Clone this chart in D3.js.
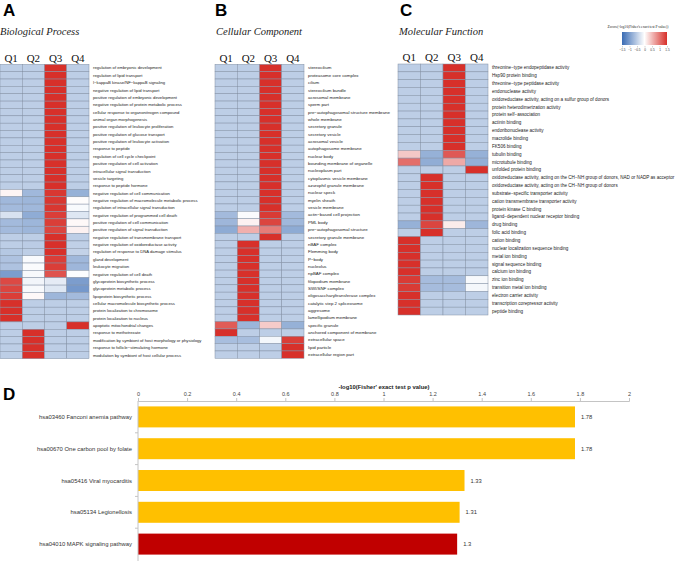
<!DOCTYPE html>
<html lang="en">
<head>
  <meta charset="UTF-8">
  <title>GO / KEGG enrichment</title>
  <script src="https://d3js.org/d3.v7.min.js"></script>
  <style>
    html, body {
      margin: 0;
      padding: 0;
      background: #fff;
      overflow: hidden;
    }
    svg text { font-family: "Liberation Sans", Arial, sans-serif; }
    .serif { font-family: "Liberation Serif", "Times New Roman", serif; }
  </style>
</head>
<body>
  <svg id="chart" width="685" height="561"></svg>
  <script>
    const quarters = ['Q1', 'Q2', 'Q3', 'Q4'];

    const bpTerms = [
      'regulation of embryonic development',
      'regulation of lipid transport',
      'I\u2212kappaB kinase/NF\u2212kappaB signaling',
      'negative regulation of lipid transport',
      'positive regulation of embryonic development',
      'negative regulation of protein metabolic process',
      'cellular response to organonitrogen compound',
      'animal organ morphogenesis',
      'positive regulation of leukocyte proliferation',
      'positive regulation of glucose transport',
      'positive regulation of leukocyte activation',
      'response to peptide',
      'regulation of cell cycle checkpoint',
      'positive regulation of cell activation',
      'intracellular signal transduction',
      'vesicle targeting',
      'response to peptide hormone',
      'negative regulation of cell communication',
      'negative regulation of macromolecule metabolic process',
      'regulation of intracellular signal transduction',
      'negative regulation of programmed cell death',
      'positive regulation of cell communication',
      'positive regulation of signal transduction',
      'negative regulation of transmembrane transport',
      'negative regulation of oxidoreductase activity',
      'regulation of response to DNA damage stimulus',
      'gland development',
      'leukocyte migration',
      'negative regulation of cell death',
      'glycoprotein biosynthetic process',
      'glycoprotein metabolic process',
      'lipoprotein biosynthetic process',
      'cellular macromolecule biosynthetic process',
      'protein localization to chromosome',
      'protein localization to nucleus',
      'apoptotic mitochondrial changes',
      'response to methotrexate',
      'modification by symbiont of host morphology or physiology',
      'response to follicle\u2212stimulating hormone',
      'modulation by symbiont of host cellular process'
    ];
    // z-scores, one row per term: Q1..Q4
    const bpValues = [
      [-0.5, -0.5, 1.5, -0.5],
      [-0.5, -0.5, 1.5, -0.5],
      [-0.5, -0.5, 1.5, -0.5],
      [-0.5, -0.5, 1.5, -0.5],
      [-0.5, -0.5, 1.5, -0.5],
      [-0.5, -0.5, 1.5, -0.5],
      [-0.5, -0.5, 1.5, -0.5],
      [-0.5, -0.5, 1.5, -0.5],
      [-0.5, -0.5, 1.5, -0.5],
      [-0.5, -0.5, 1.5, -0.5],
      [-0.5, -0.5, 1.5, -0.5],
      [-0.5, -0.5, 1.5, -0.5],
      [-0.5, -0.5, 1.5, -0.5],
      [-0.5, -0.5, 1.5, -0.5],
      [-0.5, -0.5, 1.5, -0.5],
      [-0.5, -0.5, 1.5, -0.5],
      [-0.5, -0.5, 1.5, -0.5],
      [0.08, -0.72, 1.45, -0.8],
      [-0.72, -0.75, 1.45, 0.02],
      [-0.7, -0.72, 1.45, -0.05],
      [-0.3, -0.85, 1.4, -0.25],
      [-0.7, -0.75, 1.4, 0.05],
      [-0.7, -0.75, 1.35, 0.1],
      [-0.5, -0.5, 1.5, -0.5],
      [-0.5, -0.52, 1.5, -0.48],
      [-0.56, -0.5, 1.5, -0.46],
      [-0.62, -0.05, 1.4, -0.72],
      [-0.62, -0.04, 1.4, -0.74],
      [-1.0, -0.06, 1.25, -0.02],
      [1.32, -0.1, -0.2, -1.0],
      [1.35, -0.06, -0.25, -1.05],
      [1.4, 0.05, -0.75, -0.7],
      [1.5, -0.5, -0.5, -0.5],
      [1.5, -0.5, -0.5, -0.5],
      [1.5, -0.5, -0.5, -0.5],
      [-0.5, -0.5, -0.5, 1.5],
      [-0.5, 1.5, -0.5, -0.5],
      [-0.5, 1.5, -0.5, -0.5],
      [-0.5, 1.5, -0.5, -0.5],
      [-0.5, 1.5, -0.5, -0.5]
    ];

    const ccTerms = [
      'stereocilium',
      'proteasome core complex',
      'cilium',
      'stereocilium bundle',
      'acrosomal membrane',
      'sperm part',
      'pre\u2212autophagosomal structure membrane',
      'whole membrane',
      'secretory granule',
      'secretory vesicle',
      'acrosomal vesicle',
      'autophagosome membrane',
      'nuclear body',
      'bounding membrane of organelle',
      'nucleoplasm part',
      'cytoplasmic vesicle membrane',
      'azurophil granule membrane',
      'nuclear speck',
      'myelin sheath',
      'vesicle membrane',
      'actin\u2212based cell projection',
      'PML body',
      'pre\u2212autophagosomal structure',
      'secretory granule membrane',
      'nBAF complex',
      'Flemming body',
      'P\u2212body',
      'nucleolus',
      'npBAF complex',
      'filopodium membrane',
      'SWI/SNF complex',
      'oligosaccharyltransferase complex',
      'catalytic step 2 spliceosome',
      'aggresome',
      'lamellipodium membrane',
      'specific granule',
      'anchored component of membrane',
      'extracellular space',
      'lipid particle',
      'extracellular region part'
    ];
    const ccValues = [
      [-0.5, -0.5, 1.5, -0.5],
      [-0.5, -0.5, 1.5, -0.5],
      [-0.5, -0.5, 1.5, -0.5],
      [-0.5, -0.5, 1.5, -0.5],
      [-0.5, -0.5, 1.5, -0.5],
      [-0.5, -0.5, 1.5, -0.5],
      [-0.5, -0.5, 1.5, -0.5],
      [-0.5, -0.5, 1.5, -0.5],
      [-0.5, -0.5, 1.5, -0.5],
      [-0.5, -0.5, 1.5, -0.5],
      [-0.5, -0.5, 1.5, -0.5],
      [-0.5, -0.5, 1.5, -0.5],
      [-0.5, -0.5, 1.5, -0.5],
      [-0.5, -0.5, 1.5, -0.5],
      [-0.5, -0.5, 1.5, -0.5],
      [-0.5, -0.5, 1.5, -0.5],
      [-0.5, -0.5, 1.5, -0.5],
      [-0.5, -0.5, 1.5, -0.5],
      [-0.5, -0.5, 1.5, -0.5],
      [-0.5, -0.5, 1.5, -0.5],
      [-0.7, -0.04, 1.42, -0.7],
      [-0.74, 0.1, 1.35, -0.72],
      [-0.86, 0.58, 0.95, -0.86],
      [-0.5, -0.5, 1.5, -0.5],
      [-0.5, 1.5, -0.5, -0.5],
      [-0.5, 1.5, -0.5, -0.5],
      [-0.5, 1.5, -0.5, -0.5],
      [-0.5, 1.5, -0.5, -0.5],
      [-0.5, 1.5, -0.5, -0.5],
      [-0.5, 1.5, -0.5, -0.5],
      [-0.5, 1.5, -0.5, -0.5],
      [-0.5, 1.5, -0.5, -0.5],
      [-0.5, 1.5, -0.5, -0.5],
      [-0.5, 1.5, -0.5, -0.5],
      [-0.5, 1.5, -0.5, -0.5],
      [1.18, -0.76, 0.38, -0.8],
      [1.5, -0.5, -0.5, -0.5],
      [-0.66, -0.66, -0.08, 1.4],
      [-0.5, -0.5, -0.5, 1.5],
      [-0.5, -0.5, -0.5, 1.5]
    ];

    const mfTerms = [
      'threonine\u2212type endopeptidase activity',
      'Hsp90 protein binding',
      'threonine\u2212type peptidase activity',
      'endonuclease activity',
      'oxidoreductase activity, acting on a sulfur group of donors',
      'protein heterodimerization activity',
      'protein self\u2212association',
      'actinin binding',
      'endoribonuclease activity',
      'macrolide binding',
      'FK506 binding',
      'tubulin binding',
      'microtubule binding',
      'unfolded protein binding',
      'oxidoreductase activity, acting on the CH\u2212NH group of donors, NAD or NADP as acceptor',
      'oxidoreductase activity, acting on the CH\u2212NH group of donors',
      'substrate\u2212specific transporter activity',
      'cation transmembrane transporter activity',
      'protein kinase C binding',
      'ligand\u2212dependent nuclear receptor binding',
      'drug binding',
      'folic acid binding',
      'cation binding',
      'nuclear localization sequence binding',
      'metal ion binding',
      'signal sequence binding',
      'calcium ion binding',
      'zinc ion binding',
      'transition metal ion binding',
      'electron carrier activity',
      'transcription corepressor activity',
      'peptide binding'
    ];
    const mfValues = [
      [-0.5, -0.5, 1.5, -0.5],
      [-0.5, -0.5, 1.5, -0.5],
      [-0.5, -0.5, 1.5, -0.5],
      [-0.5, -0.5, 1.5, -0.5],
      [-0.5, -0.5, 1.5, -0.5],
      [-0.5, -0.5, 1.5, -0.5],
      [-0.5, -0.5, 1.5, -0.5],
      [-0.5, -0.5, 1.5, -0.5],
      [-0.5, -0.5, 1.5, -0.5],
      [-0.5, -0.5, 1.5, -0.5],
      [-0.5, -0.5, 1.5, -0.5],
      [0.4, -0.8, 1.2, -0.8],
      [1.05, -0.84, 0.62, -0.82],
      [-0.5, -0.5, -0.5, 1.5],
      [-0.5, 1.5, -0.5, -0.5],
      [-0.5, 1.5, -0.5, -0.5],
      [-0.5, 1.5, -0.5, -0.5],
      [-0.5, 1.5, -0.5, -0.5],
      [-0.5, 1.5, -0.5, -0.5],
      [-0.5, 1.5, -0.5, -0.5],
      [-0.8, 1.35, 0.14, -0.74],
      [-0.5, 1.5, -0.5, -0.5],
      [1.5, -0.5, -0.5, -0.5],
      [1.5, -0.5, -0.5, -0.5],
      [1.5, -0.5, -0.5, -0.5],
      [1.5, -0.5, -0.5, -0.5],
      [1.5, -0.5, -0.5, -0.5],
      [1.42, -0.68, -0.68, -0.06],
      [1.42, -0.68, -0.68, -0.08],
      [1.5, -0.5, -0.5, -0.5],
      [1.5, -0.5, -0.5, -0.5],
      [1.5, -0.5, -0.5, -0.5]
    ];

    const legendTicks = [-1.5, -1, -0.5, 0, 0.5, 1, 1.5];

    const pathways = [
      'hsa03460 Fanconi anemia pathway',
      'hsa00670 One carbon pool by folate',
      'hsa05416 Viral myocarditis',
      'hsa05134 Legionellosis',
      'hsa04010 MAPK signaling pathway'
    ];
    const pathwayScores = [1.78, 1.78, 1.33, 1.31, 1.3];
    const highlightedPathways = ['hsa04010 MAPK signaling pathway'];
    const scoreTicks = [0, 0.2, 0.4, 0.6, 0.8, 1, 1.2, 1.4, 1.6, 1.8, 2];

    const svg = d3.select('#chart');

    const color = d3.scaleLinear()
      .domain([-1.5, 0, 1.5])
      .range(['#3a6cb4', '#ffffff', '#d7302a'])
      .clamp(true);

    // ---- heatmaps A / B / C
    const panels = [
      {letter: 'A', title: 'Biological Process', terms: bpTerms, values: bpValues,
       x0: 0, x1: 89, top: 64.3, bottom: 358.7, letterX: 3, titleX: 0, font: 4.2},
      {letter: 'B', title: 'Cellular Component', terms: ccTerms, values: ccValues,
       x0: 215, x1: 304, top: 64.3, bottom: 358.3, letterX: 215, titleX: 216, font: 4.4},
      {letter: 'C', title: 'Molecular Function', terms: mfTerms, values: mfValues,
       x0: 398, x1: 488, top: 64, bottom: 315, letterX: 400, titleX: 399, font: 4.6}
    ];

    panels.forEach(p => {
      const g = svg.append('g');
      const x = d3.scaleBand().domain(quarters).range([p.x0, p.x1]);
      const y = d3.scaleBand().domain(p.terms).range([p.top, p.bottom]);

      g.append('text')
        .attr('x', p.letterX).attr('y', 16)
        .attr('font-size', 17).attr('font-weight', 'bold')
        .text(p.letter);

      g.append('text')
        .attr('class', 'serif')
        .attr('x', p.titleX).attr('y', 35)
        .attr('font-size', 10.5).attr('font-style', 'italic')
        .attr('fill', '#222')
        .text(p.title);

      g.selectAll('.qhead')
        .data(quarters)
        .join('text')
        .attr('class', 'serif')
        .attr('x', d => x(d) + x.bandwidth() / 2)
        .attr('y', p.top - 2.6)
        .attr('text-anchor', 'middle')
        .attr('font-size', 11)
        .attr('fill', '#111')
        .text(d => d);

      const cells = [];
      p.terms.forEach((t, i) => {
        quarters.forEach((q, j) => cells.push({term: t, q, v: p.values[i][j]}));
      });

      g.selectAll('rect.cell')
        .data(cells)
        .join('rect')
        .attr('class', 'cell')
        .attr('x', d => x(d.q))
        .attr('y', d => y(d.term))
        .attr('width', x.bandwidth())
        .attr('height', y.bandwidth())
        .attr('fill', d => color(d.v))
        .attr('stroke', '#8391a5')
        .attr('stroke-width', 0.5);

      g.selectAll('.rowlab')
        .data(p.terms)
        .join('text')
        .attr('x', p.x1 + 4)
        .attr('y', d => y(d) + y.bandwidth() / 2)
        .attr('dominant-baseline', 'central')
        .attr('font-size', p.font)
        .attr('fill', '#222')
        .text(d => d);
    });

    // ---- colour key
    const defs = svg.append('defs');
    const grad = defs.append('linearGradient').attr('id', 'zgrad');
    grad.selectAll('stop')
      .data(d3.range(0, 1.0001, 0.1))
      .join('stop')
      .attr('offset', d => d)
      .attr('stop-color', d => color(-1.5 + 3 * d));

    const key = d3.scaleLinear().domain([-1.5, 1.5]).range([622, 667]);
    svg.append('text')
      .attr('class', 'serif')
      .attr('x', 638).attr('y', 28)
      .attr('text-anchor', 'middle')
      .attr('font-size', 3.6)
      .attr('fill', '#222')
      .text('Zscore(-log10(Fisher\'s exact test P value))');
    svg.append('rect')
      .attr('x', key(-1.5)).attr('y', 32)
      .attr('width', key(1.5) - key(-1.5)).attr('height', 13)
      .attr('fill', 'url(#zgrad)');
    const keyAxis = svg.append('g')
      .attr('transform', 'translate(0,46)')
      .call(d3.axisBottom(key).tickValues(legendTicks).tickSize(1.5).tickPadding(1)
        .tickFormat(d3.format('~g')));
    keyAxis.select('.domain').remove();
    keyAxis.selectAll('line').attr('stroke', '#666').attr('stroke-width', 0.3);
    keyAxis.selectAll('text').attr('font-size', 3.1).attr('fill', '#333');

    // ---- D bar chart
    const bx = d3.scaleLinear().domain([0, 2]).range([138, 629]);
    const by = d3.scaleBand().domain(pathways).range([401, 560])
      .paddingInner(0.34).paddingOuter(0.17);

    svg.append('text')
      .attr('x', 3).attr('y', 400)
      .attr('font-size', 17).attr('font-weight', 'bold')
      .text('D');

    svg.append('text')
      .attr('x', 384).attr('y', 389)
      .attr('text-anchor', 'middle')
      .attr('font-size', 5.9).attr('font-weight', 'bold')
      .attr('fill', '#222')
      .text('-log10(Fisher\' exact test p value)');

    const topAxis = svg.append('g')
      .attr('transform', 'translate(0,401)')
      .call(d3.axisTop(bx).tickValues(scoreTicks).tickSize(3).tickPadding(2)
        .tickFormat(d3.format('~g')));
    topAxis.select('.domain').attr('stroke', '#c4c4c4');
    topAxis.selectAll('line').attr('stroke', '#c4c4c4');
    topAxis.selectAll('text').attr('font-size', 5.5).attr('fill', '#444');

    svg.selectAll('rect.bar')
      .data(pathways)
      .join('rect')
      .attr('class', 'bar')
      .attr('x', bx(0))
      .attr('y', d => by(d))
      .attr('width', (d, i) => bx(pathwayScores[i]) - bx(0))
      .attr('height', by.bandwidth())
      .attr('fill', d => highlightedPathways.includes(d) ? '#c00000' : '#ffc000');

    svg.selectAll('text.val')
      .data(pathways)
      .join('text')
      .attr('class', 'val')
      .attr('x', (d, i) => bx(pathwayScores[i]) + 6)
      .attr('y', d => by(d) + by.bandwidth() / 2)
      .attr('dominant-baseline', 'central')
      .attr('font-size', 5.8)
      .attr('fill', '#333')
      .text((d, i) => pathwayScores[i]);

    svg.selectAll('text.pw')
      .data(pathways)
      .join('text')
      .attr('class', 'pw')
      .attr('x', 132)
      .attr('y', d => by(d) + by.bandwidth() / 2)
      .attr('text-anchor', 'end')
      .attr('dominant-baseline', 'central')
      .attr('font-size', 5.9)
      .attr('fill', '#333')
      .text(d => d);

    // left axis line with ticks between the bars
    svg.append('line')
      .attr('x1', bx(0)).attr('x2', bx(0))
      .attr('y1', 401).attr('y2', 561)
      .attr('stroke', '#c4c4c4');
    svg.selectAll('line.sep')
      .data(pathways.slice(1))
      .join('line')
      .attr('class', 'sep')
      .attr('x1', bx(0) - 3).attr('x2', bx(0))
      .attr('y1', d => by(d) - by.step() * by.paddingInner() / 2)
      .attr('y2', d => by(d) - by.step() * by.paddingInner() / 2)
      .attr('stroke', '#c4c4c4');
  </script>
</body>
</html>
